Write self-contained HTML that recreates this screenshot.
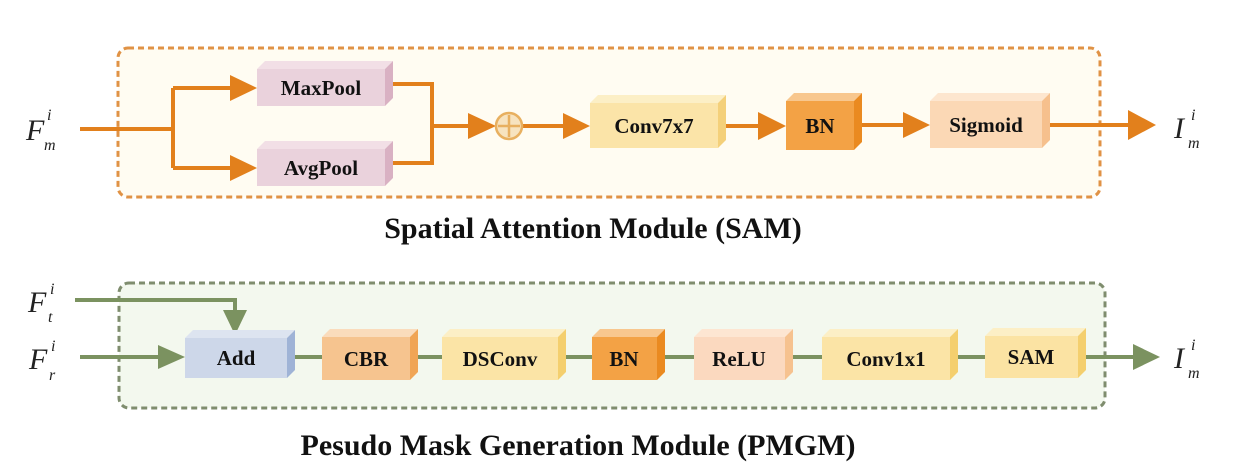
<!DOCTYPE html>
<html><head><meta charset="utf-8"><style>
html,body{margin:0;padding:0;background:#fff;}
svg{display:block;}
text{font-family:"Liberation Serif",serif;}
.b{font-weight:bold;font-size:21px;text-anchor:middle;fill:#111;}
.t{font-weight:bold;font-size:30px;text-anchor:middle;fill:#111;}
.v{font-style:italic;font-size:30px;fill:#222;}
.s{font-style:italic;font-size:16px;fill:#222;}
</style></head><body>
<svg width="1250" height="474" viewBox="0 0 1250 474" xmlns="http://www.w3.org/2000/svg">
<rect x="118" y="48" width="982" height="149" rx="10" fill="#fffcf2" stroke="#e09245" stroke-width="3" stroke-dasharray="6,4"/>
<rect x="119" y="283" width="986" height="125" rx="10" fill="#f3f8ee" stroke="#7f8d6e" stroke-width="3" stroke-dasharray="6,4"/>

<g stroke="#e2801c" stroke-width="4" fill="none">
<path d="M80,129 H173 M173,88 V168"/>
<path d="M173,88 H232 M173,168 H232"/>
<path d="M389,84 H432 V163 H389 M432,126 H470"/>
<path d="M522,126 H565"/>
<path d="M722,126 H760"/>
<path d="M860,125 H905"/>
<path d="M1048,125 H1130"/>
</g>
<g fill="#e2801c">
<path d="M230,75 L257,88 L230,101z"/>
<path d="M230,155 L257,168 L230,181z"/>
<path d="M468,113 L496,126 L468,139z"/>
<path d="M563,113 L590,126 L563,139z"/>
<path d="M758,112 L786,126 L758,140z"/>
<path d="M903,112 L930,125 L903,138z"/>
<path d="M1128,110 L1156,125 L1128,140z"/>
</g>
<circle cx="509" cy="126" r="13" fill="#f7e3bf" stroke="#e8b060" stroke-width="2.5"/>
<path d="M509,115 V137 M498,126 H520" stroke="#e8b060" stroke-width="2.5"/>

<polygon points="257,69 265,61 393,61 385,69" fill="#f2dfe6"/><polygon points="385,69 393,61 393,98 385,106" fill="#d9b1c3"/><rect x="257" y="69" width="128" height="37" fill="#ead2dc"/>
<text class="b" x="321" y="95">MaxPool</text>
<polygon points="257,149 265,141 393,141 385,149" fill="#f2dfe6"/><polygon points="385,149 393,141 393,178 385,186" fill="#d9b1c3"/><rect x="257" y="149" width="128" height="37" fill="#ead2dc"/>
<text class="b" x="321" y="175">AvgPool</text>
<polygon points="590,103 598,95 726,95 718,103" fill="#fcefc6"/><polygon points="718,103 726,95 726,140 718,148" fill="#f4d07a"/><rect x="590" y="103" width="128" height="45" fill="#fbe4a8"/>
<text class="b" x="654" y="133">Conv7x7</text>
<polygon points="786,101 794,93 862,93 854,101" fill="#f8c78e"/><polygon points="854,101 862,93 862,142 854,150" fill="#ea8a20"/><rect x="786" y="101" width="68" height="49" fill="#f3a245"/>
<text class="b" x="820" y="133">BN</text>
<polygon points="930,101 938,93 1050,93 1042,101" fill="#fde6cf"/><polygon points="1042,101 1050,93 1050,140 1042,148" fill="#f6c08d"/><rect x="930" y="101" width="112" height="47" fill="#fbd8b5"/>
<text class="b" x="986" y="132">Sigmoid</text>

<text class="v" x="26" y="140">F</text><text class="s" x="47" y="120">i</text><text class="s" x="44" y="150">m</text>
<text class="v" x="1174" y="138">I</text><text class="s" x="1191" y="120">i</text><text class="s" x="1188" y="148">m</text>
<text class="t" x="593" y="238">Spatial Attention Module (SAM)</text>

<g stroke="#7b9260" stroke-width="4" fill="none">
<path d="M75,300 H235 V312"/>
<path d="M80,357 H160"/>
<path d="M293,357 H322 M415,357 H442 M563,357 H592 M662,357 H694 M790,357 H822 M955,357 H985 M1083,357 H1135"/>
</g>
<g fill="#7b9260">
<path d="M223,310 L247,310 L235,335z"/>
<path d="M158,345 L185,357 L158,369z"/>
<path d="M1133,344 L1160,357 L1133,370z"/>
</g>
<polygon points="185,338 193,330 295,330 287,338" fill="#dde4f0"/><polygon points="287,338 295,330 295,370 287,378" fill="#9fb3d6"/><rect x="185" y="338" width="102" height="40" fill="#cdd7e9"/>
<text class="b" x="236" y="365">Add</text>
<polygon points="322,337 330,329 418,329 410,337" fill="#fadcbc"/><polygon points="410,337 418,329 418,372 410,380" fill="#f0a555"/><rect x="322" y="337" width="88" height="43" fill="#f6c48f"/>
<text class="b" x="366" y="366">CBR</text>
<polygon points="442,337 450,329 566,329 558,337" fill="#fcefc6"/><polygon points="558,337 566,329 566,372 558,380" fill="#f4cf6e"/><rect x="442" y="337" width="116" height="43" fill="#fbe4a6"/>
<text class="b" x="500" y="366">DSConv</text>
<polygon points="592,337 600,329 665,329 657,337" fill="#f8c78e"/><polygon points="657,337 665,329 665,372 657,380" fill="#ea8a20"/><rect x="592" y="337" width="65" height="43" fill="#f3a245"/>
<text class="b" x="624" y="366">BN</text>
<polygon points="694,337 702,329 793,329 785,337" fill="#fde6d2"/><polygon points="785,337 793,329 793,372 785,380" fill="#f6c28f"/><rect x="694" y="337" width="91" height="43" fill="#fbd9bf"/>
<text class="b" x="739" y="366">ReLU</text>
<polygon points="822,337 830,329 958,329 950,337" fill="#fcefc6"/><polygon points="950,337 958,329 958,372 950,380" fill="#f4cf6e"/><rect x="822" y="337" width="128" height="43" fill="#fbe4a6"/>
<text class="b" x="886" y="366">Conv1x1</text>
<polygon points="985,336 993,328 1086,328 1078,336" fill="#fcefc6"/><polygon points="1078,336 1086,328 1086,370 1078,378" fill="#f4cf6e"/><rect x="985" y="336" width="93" height="42" fill="#fbe3a3"/>
<text class="b" x="1031" y="364">SAM</text>

<text class="v" x="28" y="312">F</text><text class="s" x="50" y="294">i</text><text class="s" x="48" y="322">t</text>
<text class="v" x="29" y="369">F</text><text class="s" x="51" y="351">i</text><text class="s" x="49" y="380">r</text>
<text class="v" x="1174" y="368">I</text><text class="s" x="1191" y="350">i</text><text class="s" x="1188" y="378">m</text>
<text class="t" x="578" y="455">Pesudo Mask Generation Module (PMGM)</text>
</svg>
</body></html>
